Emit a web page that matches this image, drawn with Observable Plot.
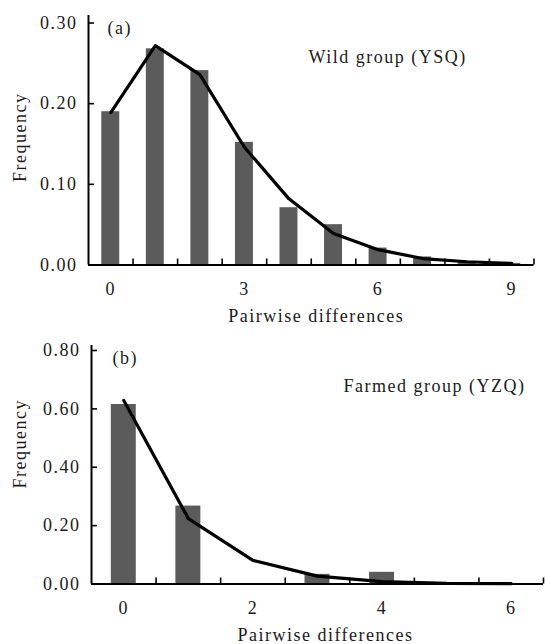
<!DOCTYPE html>
<html><head><meta charset="utf-8">
<script src="https://cdn.jsdelivr.net/npm/d3@7"></script>
<script src="https://cdn.jsdelivr.net/npm/@observablehq/plot@0.6"></script>
<style>
body{margin:0;background:#fff}
#chart svg{display:block}
#chart svg, #chart svg text{font-family:"Liberation Serif","Times New Roman",serif !important;}
</style>
</head><body><div id="chart"></div>
<script>
// Panel (a): Wild group (YSQ)
const diffsA = [0, 1, 2, 3, 4, 5, 6, 7, 8, 9];
const observedA = [0.190, 0.268, 0.241, 0.152, 0.071, 0.050, 0.021, 0.010, 0.003, 0.002];
const expectedA = [0.189, 0.272, 0.236, 0.146, 0.082, 0.039, 0.019, 0.008, 0.004, 0.002];
const yTicksA = [0, 0.10, 0.20, 0.30];
const xLabelsA = [0, 3, 6, 9];
const xTickMarksA = [0.5, 1.5, 2.5, 3.5, 4.5, 5.5, 6.5, 7.5, 8.5, 9.5];
const xDomainA = [-0.5, 9.5];
const yDomainA = [0, 0.30];
const tagA = "(a)";
const groupA = "Wild group (YSQ)";

// Panel (b): Farmed group (YZQ)
const diffsB = [0, 1, 2, 3, 4, 5, 6];
const observedB = [0.615, 0.267, 0, 0.033, 0.040, 0, 0];
const expectedB = [0.629, 0.224, 0.081, 0.027, 0.008, 0.002, 0.001];
const yTicksB = [0, 0.20, 0.40, 0.60, 0.80];
const xLabelsB = [0, 2, 4, 6];
const xTickMarksB = [0.5, 1.5, 2.5, 3.5, 4.5, 5.5, 6.5];
const xDomainB = [-0.5, 6.5];
const yDomainB = [0, 0.80];
const tagB = "(b)";
const groupB = "Farmed group (YZQ)";

const xTitle = "Pairwise differences";
const yTitle = "Frequency";

const BAR = "#5b5b5b";
const INK = "#1a1a1a";
const FONT = "Liberation Serif, Times New Roman, serif";

function panel(cfg) {
  const {diffs, observed, expected, yTicks, xLabels, xTickMarks, xDomain, yDomain, tag, group,
         height, mL, mR, mT, mB, insetTop, barInset, tagPos, groupPos, xTitleDx, yTitleDx, yTitleDy} = cfg;
  const width = 546;
  const frameW = width - mL - mR;
  const frameH = height - mT - mB;
  const rows = diffs.map((d, i) => ({d, obs: observed[i], exp: expected[i]}));
  const txt = {fill: INK, fontFamily: FONT, fontSize: 18};
  return Plot.plot({
    width, height,
    marginLeft: mL, marginRight: mR, marginTop: mT, marginBottom: mB,
    style: "font-family: 'Liberation Serif', 'Times New Roman', serif; font-size: 18px; letter-spacing: 1.5px; color: #1a1a1a; background: white; overflow: visible;",
    x: {type: "linear", domain: xDomain},
    y: {type: "linear", domain: yDomain, insetTop},
    marks: [
      Plot.rectY(rows, {x1: r => r.d - 0.5, x2: r => r.d + 0.5, y: "obs", insetLeft: barInset, insetRight: barInset, fill: BAR}),
      Plot.line(rows, {x: "d", y: "exp", stroke: "black", strokeWidth: 3.2, strokeLinejoin: "round", strokeLinecap: "round"}),
      Plot.ruleY([yDomain[0]], {stroke: "black", strokeWidth: 2}),
      Plot.ruleX([xDomain[0]], {stroke: "black", strokeWidth: 2}),
      Plot.tickY(yTicks.filter(v => v > 0), {y: v => v, insetRight: frameW - 6, stroke: "black", strokeWidth: 1.6}),
      Plot.tickX(xTickMarks, {x: v => v, insetTop: frameH - 6, stroke: "black", strokeWidth: 1.6}),
      Plot.axisY(yTicks, {tickSize: 0, tickPadding: 11, tickFormat: d3.format(".2f"), label: null, ...txt}),
      Plot.axisX(xLabels, {tickSize: 0, tickPadding: 17, tickFormat: d3.format("d"), label: null, ...txt}),
      Plot.text([xTitle], {frameAnchor: "bottom", textAnchor: "middle", lineAnchor: "bottom", dx: xTitleDx, dy: 57, ...txt}),
      Plot.text([yTitle], {frameAnchor: "left", textAnchor: "middle", lineAnchor: "middle", rotate: -90, dx: yTitleDx, dy: yTitleDy, ...txt}),
      Plot.text([tag], {frameAnchor: "top-left", textAnchor: "start", lineAnchor: "bottom", dx: tagPos[0], dy: tagPos[1], ...txt}),
      Plot.text([group], {frameAnchor: "top-left", textAnchor: "start", lineAnchor: "bottom", dx: groupPos[0], dy: groupPos[1], ...txt})
    ]
  });
}

const chart = document.getElementById("chart");
chart.append(panel({
  diffs: diffsA, observed: observedA, expected: expectedA, yTicks: yTicksA, xLabels: xLabelsA,
  xTickMarks: xTickMarksA, xDomain: xDomainA, yDomain: yDomainA, tag: tagA, group: groupA,
  height: 330, mL: 88, mR: 12.5, mT: 15, mB: 65.5, insetTop: 7.5, barInset: 13.3,
  tagPos: [19, 18], groupPos: [220, 47.3], xTitleDx: 5, yTitleDx: -68.4, yTitleDy: -3
}));
chart.append(panel({
  diffs: diffsB, observed: observedB, expected: expectedB, yTicks: yTicksB, xLabels: xLabelsB,
  xTickMarks: xTickMarksB, xDomain: xDomainB, yDomain: yDomainB, tag: tagB, group: groupB,
  height: 314, mL: 91, mR: 3, mT: 15, mB: 60.5, insetTop: 5, barInset: 19.8,
  tagPos: [21, 18.3], groupPos: [252, 46.7], xTitleDx: 8, yTitleDx: -71.4, yTitleDy: -21
}));
</script>
</body></html>
